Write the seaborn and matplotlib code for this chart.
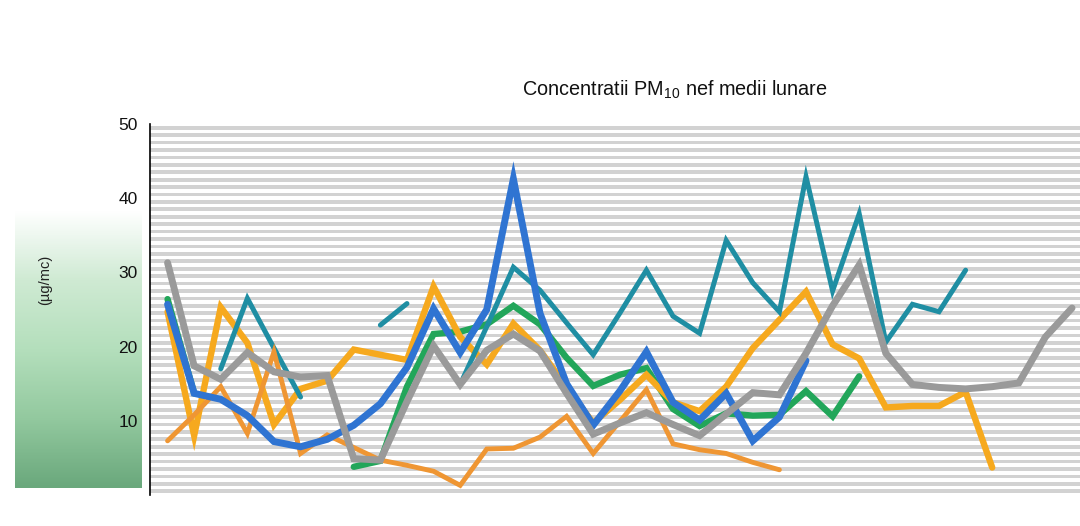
import numpy as np
import pandas as pd
import matplotlib
matplotlib.use("Agg")
import matplotlib.pyplot as plt
import seaborn as sns
from matplotlib.colors import LinearSegmentedColormap

# month index (no labels visible in the reference)
luni = list(range(35))
nan = np.nan

albastru = [25.7, 13.7, 12.9, 10.7, 7.2, 6.5, 7.5, 9.4, 12.3, 17.2, 25.1, 19.2, 25.0, 42.6,
            24.5, 15.0, 9.4, 14.0, 19.3, 12.5, 10.1, 13.7, 7.3, 10.5, 18.1] + [nan] * 10
turcoaz = [nan, nan, 17.0, 26.5, 19.8, 13.2, nan, nan, 22.9, 25.8, nan, 14.9, 22.7, 30.7,
           27.6, 23.2, 18.9, 24.5, 30.3, 24.1, 21.8, 34.3, 28.6, 24.7, 42.9, 27.5, 37.9,
           20.6, 25.7, 24.7, 30.3] + [nan] * 4
verde = [26.4, 13.7, nan, nan, nan, nan, nan, 3.8, 4.6, 14.6, 21.7, 22.0, 23.0, 25.5,
         23.0, 18.5, 14.7, 16.2, 17.1, 11.6, 9.3, 11.0, 10.7, 10.8, 14.0, 10.6, 16.0] + [nan] * 8
galben = [24.7, 8.0, 25.3, 20.5, 9.5, 14.3, 15.4, 19.6, 18.9, 18.2, 28.1, 21.3, 17.6, 23.1,
          19.5, 14.5, 9.7, 12.8, 16.2, 12.5, 11.3, 14.6, 19.8, 23.6, 27.4, 20.3, 18.4, 11.8,
          12.0, 12.0, 13.9, 3.7] + [nan] * 3
portocaliu = [7.3, 10.8, 14.6, 8.3, 19.3, 5.6, 8.1, 6.4, 4.7, 4.0, 3.2, 1.3, 6.2, 6.3, 7.8,
              10.6, 5.6, 9.9, 14.2, 6.9, 6.1, 5.6, 4.4, 3.4] + [nan] * 11
gri = [31.3, 17.4, 15.6, 19.2, 16.6, 15.9, 16.1, 4.9, 4.7, 12.6, 20.1, 14.9, 19.5, 21.7,
       19.4, 13.7, 8.2, 9.7, 11.1, 9.5, 8.0, 10.9, 13.8, 13.5, 19.1, 25.5, 31.0, 19.1, 14.9,
       14.5, 14.3, 14.6, 15.1, 21.3, 25.2]

# drawing order (bottom -> top): name, values, colour, width
serii = [
    ("verde", verde, "#22a65a", 4.6),
    ("galben", galben, "#f6a91e", 4.6),
    ("turcoaz", turcoaz, "#1f8ea3", 3.6),
    ("portocaliu", portocaliu, "#ef9633", 3.5),
    ("albastru", albastru, "#2f74d2", 5.0),
    ("gri", gri, "#9a9a9a", 5.0),
]

sns.set_style("white")
plt.rcParams["font.family"] = ["Liberation Sans", "DejaVu Sans"]
plt.rcParams["mathtext.fontset"] = "custom"
plt.rcParams["mathtext.rm"] = "Liberation Sans"
plt.rcParams["mathtext.default"] = "regular"

W, H = 1080, 526
fig = plt.figure(figsize=(W / 100, H / 100), dpi=100)
fig.patch.set_facecolor("white")

# green page decoration on the left
ax_bg = fig.add_axes([15 / W, 1 - 488 / H, 127 / W, 278 / H])
cmap_bg = LinearSegmentedColormap.from_list(
    "pag", ["#ffffff", "#cfeAd3", "#b4dfbc", "#93c99f", "#6aa87c"])
ax_bg.imshow(np.linspace(0, 1, 200).reshape(-1, 1), aspect="auto", cmap=cmap_bg)
ax_bg.axis("off")

ax = fig.add_axes([150 / W, 1 - 495 / H, 1 - 150 / W, 371 / H])
ax.set_facecolor("white")

# striped plot background
for i in range(50):
    ax.axhspan(i + 0.25, i + 0.75, color="#d2d2d2", lw=0, zorder=0)

for nume, vals, culoare, lw in serii:
    df = pd.DataFrame({"luna": luni, "val": vals})
    df["seg"] = df["val"].isna().cumsum()
    df = df.dropna()
    sns.lineplot(data=df, x="luna", y="val", units="seg", estimator=None,
                 color=culoare, lw=lw, ax=ax, legend=False,
                 solid_joinstyle="miter", solid_capstyle="round")

ax.set_xlim(-0.66, 34.3)
ax.set_ylim(0, 50)
ax.set_yticks([0, 10, 20, 30, 40, 50])
ax.set_yticklabels(["", "10", "20", "30", "40", "50"])
ax.set_xticks([])
ax.set_xlabel("")
ax.set_ylabel("")
ax.tick_params(axis="y", direction="out", length=5, width=1, labelsize=12.5,
               pad=4, labelcolor="#111111")
for s in ["top", "right", "bottom"]:
    ax.spines[s].set_visible(False)
ax.spines["left"].set_color("black")
ax.spines["left"].set_linewidth(1.2)

fig.text(675 / W, 1 - 90 / H, "Concentratii PM$_{10}$ nef medii lunare",
         ha="center", va="center", fontsize=14.3, color="#111111")
fig.text(45 / W, 1 - 280 / H, "(µg/mc)", rotation=90, ha="center", va="center",
         fontsize=10.5, color="#222222")

fig.savefig("out.png", dpi=100, facecolor="white")
